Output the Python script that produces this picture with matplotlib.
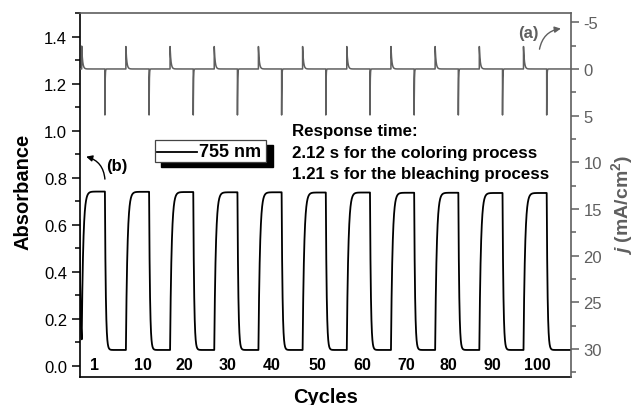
import numpy as np
import matplotlib.pyplot as plt
from matplotlib.patches import Rectangle, FancyArrowPatch
from matplotlib.ticker import MultipleLocator

plt.rcParams['font.family'] = ['Liberation Sans', 'DejaVu Sans']
plt.rcParams['axes.unicode_minus'] = False
plt.rcParams['mathtext.fontset'] = 'custom'
plt.rcParams['mathtext.rm'] = 'Liberation Sans:bold'
plt.rcParams['mathtext.it'] = 'Liberation Sans:bold:italic'

# switching times of the double-step cycles (s)
color_on = [2, 42, 82, 122, 162, 202, 242, 282, 322, 362, 402]
bleach_on = [23, 63, 103, 143, 183, 223, 263, 303, 343, 383, 423]
t_end = 445

# absorbance plateaus at 755 nm
abs_start = 0.62
abs_colored = [0.742, 0.741, 0.740, 0.739, 0.739, 0.738, 0.738, 0.737, 0.737, 0.736, 0.736]
abs_bleached = [0.068, 0.068, 0.068, 0.068, 0.068, 0.068, 0.068, 0.068, 0.068, 0.068, 0.068]
tau_color = 1.4
tau_bleach = 0.8

# current peaks (mA/cm2), negative = coloring
j_color = [-2.45, -2.4, -2.4, -2.4, -2.4, -2.4, -2.4, -2.4, -2.4, -2.4, -2.4]
j_bleach = [4.93, 4.93, 4.93, 4.93, 4.93, 4.93, 4.93, 4.93, 4.93, 4.93, 4.93]
tau_jc = 0.8
tau_jb = 0.2

cycle_labels = ['1', '10', '20', '30', '40', '50', '60', '70', '80', '90', '100']
label_t = [14, 57, 95, 134, 174, 215, 256, 296, 334, 374, 415]

gray = '#5f5f5f'

t = np.arange(0, t_end, 0.02)

# absorbance: first-order relaxation towards each new plateau
events = [(0, abs_bleached[0], tau_bleach)]
for i in range(len(color_on)):
    events.append((color_on[i], abs_colored[i], tau_color))
    events.append((bleach_on[i], abs_bleached[i], tau_bleach))
A = np.zeros_like(t)
a0 = abs_start
for k, (te, target, tau) in enumerate(events):
    t_next = events[k + 1][0] if k + 1 < len(events) else t_end
    m = (t >= te) & (t < t_next)
    A[m] = target + (a0 - target) * np.exp(-(t[m] - te) / tau)
    a0 = target + (a0 - target) * np.exp(-(t_next - te) / tau)

# current transients
J = np.zeros_like(t)
for i in range(len(color_on)):
    m = t >= color_on[i]
    J[m] += j_color[i] * np.exp(-(t[m] - color_on[i]) / tau_jc)
    m = t >= bleach_on[i]
    J[m] += j_bleach[i] * np.exp(-(t[m] - bleach_on[i]) / tau_jb)

fig = plt.figure(figsize=(6.35, 4.06), dpi=100)
ax = fig.add_axes([0.1252, 0.069, 0.774, 0.8966])
ax2 = ax.twinx()

ax.plot(t, A, color='black', lw=1.3, label='755 nm')
ax2.plot(t, J, color=gray, lw=1.1)

ax.set_xlim(0, t_end)
ax.set_ylim(-0.047, 1.502)
ax2.set_ylim(33, -6)

ax.set_xticks([])
ax.yaxis.set_major_locator(MultipleLocator(0.2))
ax.yaxis.set_minor_locator(MultipleLocator(0.1))
ax.tick_params(axis='y', which='major', length=6, width=1.1, labelsize=12, pad=3)
ax.tick_params(axis='y', which='minor', length=3.5, width=1.1)

ax2.yaxis.set_major_locator(MultipleLocator(5))
ax2.yaxis.set_minor_locator(MultipleLocator(2.5))
ax2.tick_params(axis='y', which='major', length=6, width=1.1, labelsize=12, pad=3,
                color=gray, labelcolor=gray)
ax2.tick_params(axis='y', which='minor', length=3.5, width=1.1, color=gray)

for s in ['left', 'bottom']:
    ax.spines[s].set_linewidth(1.2)
    ax2.spines[s].set_visible(False)
ax.spines['right'].set_visible(False)
ax.spines['top'].set_visible(False)
for s in ['right', 'top']:
    ax2.spines[s].set_color(gray)
    ax2.spines[s].set_linewidth(1.2)

# cycle numbers under each pulse
for lab, x in zip(cycle_labels, label_t):
    ax.text(x, 0.005, lab, ha='center', va='center', fontsize=11.5, fontweight='bold')

resp_lines = ['Response time:', '2.12 s for the coloring process',
              '1.21 s for the bleaching process']
for k, line in enumerate(resp_lines):
    ax.text(0.432, 0.676 - 0.059 * k, line, transform=ax.transAxes, fontsize=12.2,
            fontweight='bold', va='center')

# legend box with solid shadow
ax.add_patch(Rectangle((0.166, 0.577), 0.228, 0.060, transform=ax.transAxes,
                       facecolor='black', edgecolor='black', zorder=5))
ax.add_patch(Rectangle((0.1536, 0.5907), 0.2259, 0.0603, transform=ax.transAxes,
                       facecolor='white', edgecolor='#444444', lw=0.9, zorder=6))
ax.plot([0.158, 0.239], [0.618, 0.618], transform=ax.transAxes, color='black',
        lw=1.3, zorder=7)
ax.text(0.244, 0.619, '755 nm', transform=ax.transAxes, fontsize=13,
        fontweight='bold', va='center', zorder=7)

# (b) -> absorbance axis
ax.text(0.054, 0.581, '(b)', transform=ax.transAxes, fontsize=12, fontweight='bold',
        va='center')
ax.add_patch(FancyArrowPatch((0.052, 0.536), (0.008, 0.607), transform=ax.transAxes,
                             connectionstyle='arc3,rad=0.4', arrowstyle='-|>',
                             mutation_scale=9, color='black', lw=1.0))
# (a) -> current axis
ax.text(0.893, 0.947, '(a)', transform=ax.transAxes, fontsize=12, fontweight='bold',
        va='center', color=gray)
ax.add_patch(FancyArrowPatch((0.935, 0.893), (0.985, 0.958), transform=ax.transAxes,
                             connectionstyle='arc3,rad=-0.4', arrowstyle='-|>',
                             mutation_scale=9, color=gray, lw=1.0))

fig.text(0.036, 0.527, 'Absorbance', rotation=90, ha='center', va='center',
         fontsize=14.5, fontweight='bold')
fig.text(0.512, 0.022, 'Cycles', ha='center', va='center', fontsize=14.5,
         fontweight='bold')
fig.text(0.980, 0.495, r'$j$ (mA/cm$^2$)', rotation=90, ha='center', va='center',
         fontsize=14, fontweight='bold', color=gray)

fig.savefig('out.png', dpi=100)
